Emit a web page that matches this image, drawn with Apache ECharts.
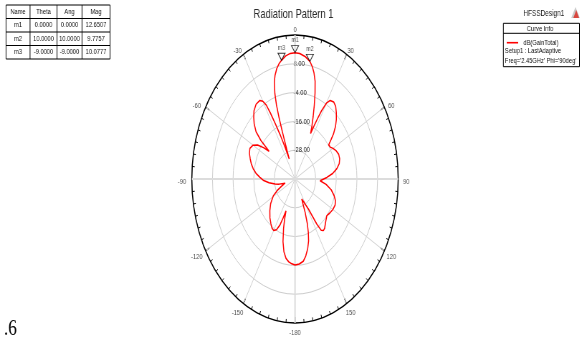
<!DOCTYPE html>
<html>
<head>
<meta charset="utf-8">
<script src="https://cdn.jsdelivr.net/npm/echarts/dist/echarts.min.js"></script>
<style>
  html, body { margin: 0; padding: 0; background: #fff; overflow: hidden; }
  #wrap { position: relative; width: 580px; height: 341px; overflow: hidden; }
  #chart { position: absolute; left: 0; top: 0; height: 341px; transform-origin: 0 0; }
</style>
</head>
<body>
<div id="wrap"><div id="chart"></div></div>
<script>
// Gain pattern, dB(GainTotal) against Theta (deg), Phi = 90deg
const thetaDeg = [
  -177, -174, -171, -168, -165, -162, -160, -158.5, -157, -155.5, -153, -150, -147, -143, -138,
  -132, -126, -119, -115, -111, -107, -103, -100, -96, -92, -88, -84, -80, -76, -72, -68, -64,
  -60, -57, -54.5, -52.5, -51, -49, -46, -43, -40, -36, -32, -30, -28.5, -27.5, -26.5, -25,
  -23.5, -22, -21, -20.5, -20, -19.2, -18.2, -16.6, -15, -13, -11, -9, -6, -3,
  0, 3, 6.5, 10, 12, 14, 16, 18, 20, 22, 24, 25.5, 26.5, 27.5, 28.5, 30, 32, 35, 38, 41, 44,
  47, 50, 52, 54, 57, 60, 64, 68, 72, 76, 80, 84, 88, 92.8, 97, 102, 107, 111, 115, 120,
  125, 129.6, 133, 137, 140, 142.5, 144.5, 146, 148, 151, 155, 157, 159, 160.8, 163, 165.8,
  169, 172, 176, 180
];
const gainDb = [
  -4.6, -5.3, -6.5, -9.0, -13.0, -18.5, -22.5, -25.7, -22.5, -19.0, -16.3, -15.2, -15.5, -16.7, -18.2,
  -20.3, -22.5, -25.6, -28.5, -31.5, -34.0, -30.5, -28.2, -24.8, -21.8, -19.6, -17.2, -15.3, -13.8, -12.6, -11.4, -10.8,
  -11.8, -14.0, -17.5, -21.0, -14.5, -10.0, -7.0, -4.8, -2.9, -1.5, -1.4, -2.6, -5.0, -9.0, -14.0, -20.0,
  -26.0, -31.0, -25.0, -19.0, -13.0, -7.0, -2.5, 2.1, 4.8, 7.2, 8.9, 10.0777, 11.6, 12.4,
  12.6507, 12.35, 11.4, 9.7757, 8.0, 5.6, 2.4, -2.3, -7.2, -11.8, -15.8, -19.0, -15.5, -11.5, -7.5, -3.5, -1.4, -0.8, -1.6, -3.4, -5.4,
  -7.8, -10.8, -13.5, -15.8, -15.6, -14.5, -13.3, -12.6, -12.7, -13.5, -15.3, -18.0, -21.5, -25.4, -21.8, -18.5, -16.2, -14.8, -14.3, -14.6,
  -15.3, -16.0, -15.3, -14.2, -13.2, -12.9, -13.8, -17.4, -25.3, -28.5, -30.8, -25.0, -20.0, -16.5, -13.0, -10.0,
  -7.3, -5.4, -4.5, -4.2
];

// Marker table
const tableHeader = ['Name', 'Theta', 'Ang', 'Mag'];
const markerNames = ['m1', 'm2', 'm3'];
const markerTheta = [0, 10, -9];
const markerAng = [0, 10, -9];
const markerMag = [12.6507, 9.7757, 10.0777];

// Radial scale (dB) and angular scale (deg)
const gainMin = -40, gainMax = 20, gainStep = 12;
const angleStep = 30;
const angleTickValues = [0, 30, 60, 90, 120, 150, 180, 210, 240, 270, 300, 330];

// Legend texts
const designName = 'HFSSDesign1';
const curveName = 'dB(GainTotal)';
const curveSetup = 'Setup1 : LastAdaptive';
const curveSweep = "Freq='2.45GHz' Phi='90deg'";
const plotTitle = 'Radiation Pattern 1';
const pageNote = '.6';

// The plot window is drawn wide and squeezed horizontally, like the exported report image.
const SX = 0.7167;
const W = 580 / SX;
const CX = 295 / SX, CY = 179, R = 144;

const el = document.getElementById('chart');
el.style.width = W + 'px';
el.style.transform = 'scaleX(' + SX + ')';

const FONT = 'Liberation Sans, Arial, sans-serif';
const toAxisAngle = t => (t < 0 ? t + 360 : t);
const fmtAngle = v => (v >= 180 ? String(v - 360) : String(v));

// curve points ordered around the axis (0..360), closed at 360
const curve = thetaDeg.map((t, i) => [gainDb[i], toAxisAngle(t)]).sort((a, b) => a[1] - b[1]);
curve.push([curve[0][0], 360]);

const markerData = markerTheta.map((t, i) => ({ name: markerNames[i], value: [markerMag[i], toAxisAngle(t)] }));

// angle labels sit just outside the rim, centred on their text
const angleLabelData = angleTickValues.map(a => {
  const rad = a * Math.PI / 180;
  const s = Math.sin(rad), c = Math.cos(rad);
  const text = fmtAngle(a);
  const dx = 11.2 * s + (text.charAt(0) === '-' && Math.abs(s) > 0.1 ? -2.6 : 0);
  const dy = -7.5 * c + 2.5;
  return { value: [gainMax, a], label: { formatter: text, offset: [dx, dy] } };
});

// table graphic
const colX = [8.4, 41.9, 79.5, 114.4, 153.5];
const rowY = [5, 18.5, 32, 45.5, 59];
const fmt4 = v => v.toFixed(4);
const tableRows = [tableHeader].concat(markerNames.map((n, i) => [n, fmt4(markerTheta[i]), fmt4(markerAng[i]), fmt4(markerMag[i])]));
const tableGraphics = [];
tableGraphics.push({ type: 'rect', shape: { x: colX[0], y: rowY[0], width: colX[4] - colX[0], height: rowY[4] - rowY[0] },
  style: { fill: '#fff', stroke: '#000', lineWidth: 1 } });
for (let r = 1; r < 4; r++) {
  tableGraphics.push({ type: 'line', shape: { x1: colX[0], y1: rowY[r], x2: colX[4], y2: rowY[r] }, style: { stroke: '#000', lineWidth: 1 } });
}
for (let c = 1; c < 4; c++) {
  tableGraphics.push({ type: 'line', shape: { x1: colX[c], y1: rowY[0], x2: colX[c], y2: rowY[4] }, style: { stroke: '#000', lineWidth: 1 } });
}
tableRows.forEach((row, r) => row.forEach((txt, c) => {
  tableGraphics.push({ type: 'text', x: (colX[c] + colX[c + 1]) / 2, y: (rowY[r] + rowY[r + 1]) / 2,
    style: { text: txt, font: '8px ' + FONT, fill: '#111', align: 'center', verticalAlign: 'middle' } });
}));

// legend box
const box = { x1: 702.3, y1: 23.3, x2: 808.5, y2: 66.7, head: 33.3 };
const legendGraphics = [
  { type: 'rect', shape: { x: box.x1, y: box.y1, width: box.x2 - box.x1, height: box.y2 - box.y1 }, style: { fill: '#fff', stroke: '#000', lineWidth: 1 } },
  { type: 'line', shape: { x1: box.x1, y1: box.head, x2: box.x2, y2: box.head }, style: { stroke: '#000', lineWidth: 1 } },
  { type: 'text', x: 753.5, y: 28.3, style: { text: 'Curve Info', font: '8px ' + FONT, fill: '#111', align: 'center', verticalAlign: 'middle' } },
  { type: 'line', shape: { x1: 707, y1: 42.7, x2: 723, y2: 42.7 }, style: { stroke: '#ff0000', lineWidth: 1.6 } },
  { type: 'text', x: 730.2, y: 42.7, style: { text: curveName, font: '8px ' + FONT, fill: '#111', align: 'left', verticalAlign: 'middle' } },
  { type: 'text', x: 704.6, y: 50.9, style: { text: curveSetup, font: '8px ' + FONT, fill: '#111', align: 'left', verticalAlign: 'middle' } },
  { type: 'text', x: 704.6, y: 60.4, style: { text: curveSweep, font: '8px ' + FONT, fill: '#111', align: 'left', verticalAlign: 'middle' } },
  { type: 'text', x: 730.2, y: 14, style: { text: designName, font: '9px ' + FONT, fill: '#222', align: 'left', verticalAlign: 'middle' } },
  { type: 'polygon', shape: { points: [[797, 18], [803, 7], [809, 18]] }, style: { fill: '#c9c9c9' } },
  { type: 'polygon', shape: { points: [[800, 18], [804, 10], [808, 18]] }, style: { fill: '#d9473f' } },
  { type: 'text', x: 409.5, y: 14.5, style: { text: plotTitle, font: '13px ' + FONT, fill: '#2a2a2a', align: 'center', verticalAlign: 'middle' } },
  { type: 'text', x: 5.6, y: 341, style: { text: pageNote, font: '24px Liberation Serif, Times New Roman, serif', fill: '#000', align: 'left', verticalAlign: 'bottom' } }
];

const chart = echarts.init(el, null, { renderer: 'canvas' });
chart.setOption({
  animation: false,
  backgroundColor: '#fff',
  textStyle: { fontFamily: FONT },
  polar: { center: [CX, CY], radius: R },
  angleAxis: {
    type: 'value', min: 0, max: 360, interval: angleStep, startAngle: 90, clockwise: true,
    axisLine: { lineStyle: { color: '#000', width: 1.5 } },
    axisTick: { show: true, inside: true, length: 6, lineStyle: { color: '#000', width: 1.3 } },
    minorTick: { show: true, splitNumber: 6, length: 3.5, lineStyle: { color: '#000', width: 1 } },
    axisLabel: { show: false },
    splitLine: { show: true, lineStyle: { color: '#d2d2d2', width: 1 } }
  },
  radiusAxis: {
    type: 'value', min: gainMin, max: gainMax, interval: gainStep,
    axisLine: { show: false }, axisTick: { show: false },
    axisLabel: { showMinLabel: false, showMaxLabel: false, fontSize: 8, color: '#222', align: 'left', verticalAlign: 'middle', margin: 2,
      formatter: v => v.toFixed(2) },
    splitLine: { show: true, lineStyle: { color: '#cdcdcd', width: 1 } }
  },
  series: [
    { type: 'line', coordinateSystem: 'polar', symbol: 'none', silent: true, z: 1,
      lineStyle: { color: '#dcdcdc', width: 2 },
      data: [[gainMax, 0], [gainMin, 0], [gainMax, 180]] },
    { type: 'line', coordinateSystem: 'polar', symbol: 'none', silent: true, z: 1,
      lineStyle: { color: '#dcdcdc', width: 2 },
      data: [[gainMax, 90], [gainMin, 90], [gainMax, 270]] },
    { name: curveName, type: 'line', coordinateSystem: 'polar', symbol: 'none', z: 3,
      lineStyle: { color: '#ff0000', width: 1.5 }, data: curve },
    { type: 'scatter', coordinateSystem: 'polar', z: 4,
      symbol: 'triangle', symbolRotate: 180, symbolSize: [10, 7], symbolOffset: [0, -3.5],
      itemStyle: { color: 'rgba(255,255,255,0)', borderColor: '#000', borderWidth: 1 },
      label: { show: true, position: 'top', distance: 1, formatter: '{b}', fontSize: 7.5, color: '#222' },
      data: markerData },
    { type: 'scatter', coordinateSystem: 'polar', z: 5, silent: true, symbolSize: 0,
      label: { show: true, position: 'inside', fontSize: 8, color: '#222' },
      data: angleLabelData }
  ],
  graphic: tableGraphics.concat(legendGraphics)
});
</script>
</body>
</html>
